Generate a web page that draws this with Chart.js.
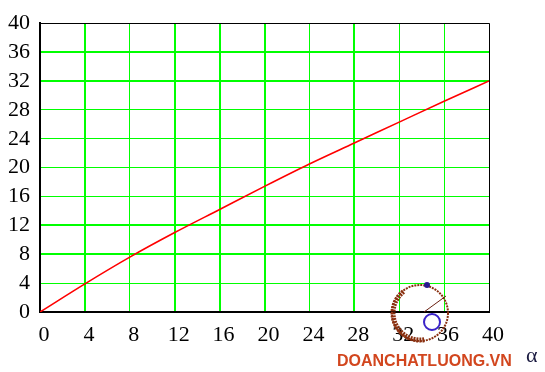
<!DOCTYPE html>
<html>
<head>
<meta charset="utf-8">
<script src="https://cdn.jsdelivr.net/npm/chart.js@4/dist/chart.umd.min.js"></script>
<style>
  html, body { margin: 0; padding: 0; background: #fff; }
  #wrap { width: 545px; height: 372px; }
</style>
</head>
<body>
<div id="wrap"><canvas id="alphaChart"></canvas></div>
<script>
// values
var alphaValues = [0, 4, 8, 12, 16, 20, 24, 28, 32, 36, 40];
var curveValues = [0, 3.9, 7.6, 11.0, 14.2, 17.4, 20.5, 23.4, 26.3, 29.2, 32.0];
var xTicks = [0, 4, 8, 12, 16, 20, 24, 28, 32, 36, 40];
var yTicks = [0, 4, 8, 12, 16, 20, 24, 28, 32, 36, 40];
// grid lines that came out heavier in the original
var thickX = [4, 12, 16, 20, 28];
var thickY = [8, 12, 32, 36];

var points = alphaValues.map(function (a, i) {
    return { x: a, y: curveValues[i] };
});

var gridColor = function (ctx) {
    var v = ctx.tick ? ctx.tick.value : null;
    if (v === 40) return '#000';
    if (v === 0) return 'rgba(0,0,0,0)';
    return '#00ff00';
};
var gridWidth = function (thick) {
    return function (ctx) {
        var v = ctx.tick ? ctx.tick.value : null;
        if (v === 40) return 1;
        return thick.indexOf(v) >= 0 ? 2 : 1;
    };
};

var extras = {
    id: 'extras',
    afterDraw: function (chart) {
        var c = chart.ctx;
        c.save();
        // little watermark logo
        c.strokeStyle = '#8a3010';
        c.lineWidth = 2;
        c.setLineDash([2, 1]);
        c.beginPath();
        c.arc(420, 313, 28, 0, Math.PI * 2);
        c.stroke();
        c.lineWidth = 5;
        c.beginPath();
        c.arc(420, 313, 27, Math.PI * 0.45, Math.PI * 1.3);
        c.stroke();
        c.setLineDash([]);
        c.lineWidth = 2;
        c.strokeStyle = '#3a22c8';
        c.beginPath();
        c.arc(432, 322, 8, 0, Math.PI * 2);
        c.stroke();
        c.strokeStyle = '#6a2010';
        c.lineWidth = 1;
        c.beginPath();
        c.moveTo(424, 312);
        c.lineTo(446, 296);
        c.stroke();
        c.fillStyle = '#2a1a90';
        c.beginPath();
        c.arc(427, 285, 3, 0, Math.PI * 2);
        c.fill();
        // watermark text
        c.font = 'bold 16px "Liberation Sans"';
        c.fillStyle = '#d2461e';
        c.textBaseline = 'alphabetic';
        c.textAlign = 'left';
        c.fillText('DOANCHATLUONG.VN', 337, 366, 178);
        // axis name
        c.font = '22px "Liberation Serif"';
        c.fillStyle = '#1a1a40';
        c.fillText('\u03b1', 526, 362);
        c.restore();
    }
};

new Chart('alphaChart', {
    type: 'line',
    data: {
        datasets: [{
            data: points,
            borderColor: '#ff0000',
            borderWidth: 1.6,
            pointRadius: 0,
            fill: false,
            cubicInterpolationMode: 'monotone'
        }]
    },
    options: {
        responsive: true,
        maintainAspectRatio: false,
        animation: false,
        layout: { padding: { left: 0, top: 16, right: 56, bottom: 0 } },
        plugins: {
            legend: { display: false },
            tooltip: { enabled: false }
        },
        scales: {
            x: {
                type: 'linear',
                min: 0,
                max: 40,
                afterFit: function (s) { s.height = 60; },
                afterBuildTicks: function (s) {
                    s.ticks = xTicks.map(function (v) { return { value: v }; });
                },
                border: { color: '#000', width: 2 },
                grid: {
                    drawTicks: false,
                    color: gridColor,
                    lineWidth: gridWidth(thickX)
                },
                ticks: {
                    padding: 10,
                    labelOffset: 4,
                    maxRotation: 0,
                    autoSkip: false,
                    color: '#000',
                    font: { family: '"Liberation Serif"', size: 22 }
                }
            },
            y: {
                min: 0,
                max: 40,
                afterFit: function (s) { s.width = 40; },
                afterBuildTicks: function (s) {
                    s.ticks = yTicks.map(function (v) { return { value: v }; });
                },
                border: { color: '#000', width: 2 },
                grid: {
                    drawTicks: false,
                    color: gridColor,
                    lineWidth: gridWidth(thickY)
                },
                ticks: {
                    padding: 10,
                    labelOffset: 0,
                    autoSkip: false,
                    color: '#000',
                    font: { family: '"Liberation Serif"', size: 22 }
                }
            }
        }
    },
    plugins: [extras]
});
</script>
</body>
</html>
